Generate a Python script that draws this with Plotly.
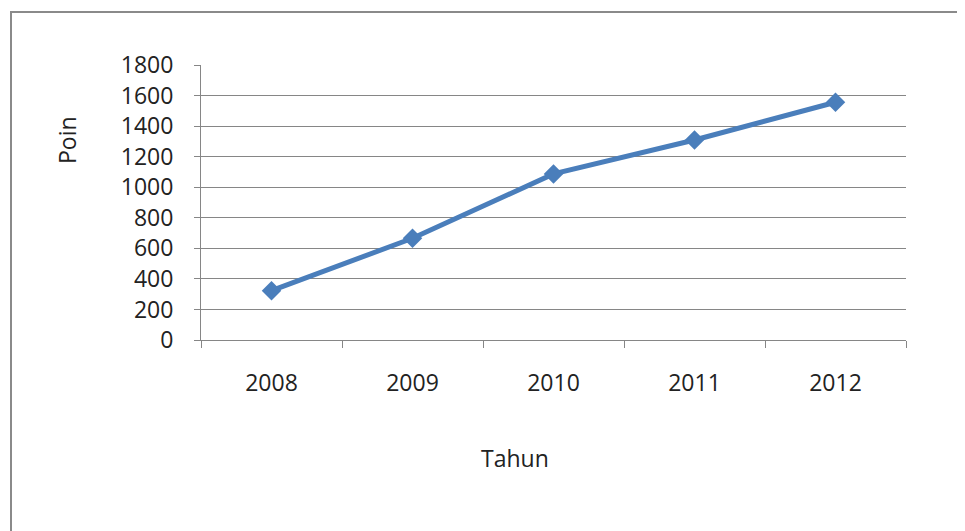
import plotly.graph_objects as go

years = ["2008", "2009", "2010", "2011", "2012"]
poin = [323, 666, 1087, 1309, 1556]
y_ticks = [0, 200, 400, 600, 800, 1000, 1200, 1400, 1600, 1800]

OFF = 8  # default page body margin
W, H = 965 - OFF, 531 - OFF
L, R, T, B = 201, 906, 65, 340  # target page pixel positions of plot area
pw, ph = R - L, B - T

def px(x):
    return (x - L) / pw

def py(y):
    return (B - y) / ph

font = "Open Sans"
grey = "#868686"

fig = go.Figure()
fig.add_trace(go.Scatter(
    x=years, y=poin, mode="lines+markers",
    line=dict(color="#4a7ebb", width=5),
    marker=dict(symbol="diamond", size=15, color="#4a7ebb"),
    showlegend=False, cliponaxis=False,
))

fig.update_layout(
    width=W, height=H,
    margin=dict(l=L - OFF, r=OFF + W - R, t=T - OFF, b=OFF + H - B),
    paper_bgcolor="white", plot_bgcolor="white",
    font=dict(family=font, size=23, color="#222222"),
    xaxis=dict(
        type="category", range=[-0.5, len(years) - 0.5],
        tickson="boundaries", ticks="outside", ticklen=7,
        tickcolor=grey, showline=True, linecolor=grey, linewidth=1,
        showgrid=False, ticklabelstandoff=22, tickfont=dict(size=23),
    ),
    yaxis=dict(
        range=[0, 1800], tickvals=y_ticks, ticks="outside", ticklen=6,
        tickcolor=grey, showline=True, linecolor=grey, linewidth=1,
        showgrid=True, gridcolor=grey, gridwidth=1, zeroline=False,
        ticklabelstandoff=16, tickfont=dict(size=23),
    ),
    shapes=[dict(
        type="rect", xref="paper", yref="paper",
        x0=px(11), x1=px(975), y0=py(545), y1=py(12),
        line=dict(color="#8a8a8a", width=2), fillcolor="rgba(0,0,0,0)",
        layer="below",
    )],
    annotations=[
        dict(text="Tahun", xref="paper", yref="paper", x=px(515), y=py(458),
             showarrow=False, font=dict(size=23), xanchor="center", yanchor="middle"),
        dict(text="Poin", xref="paper", yref="paper", x=px(67), y=py(140),
             showarrow=False, font=dict(size=23), textangle=-90,
             xanchor="center", yanchor="middle"),
    ],
)

fig.write_html("out.html")
